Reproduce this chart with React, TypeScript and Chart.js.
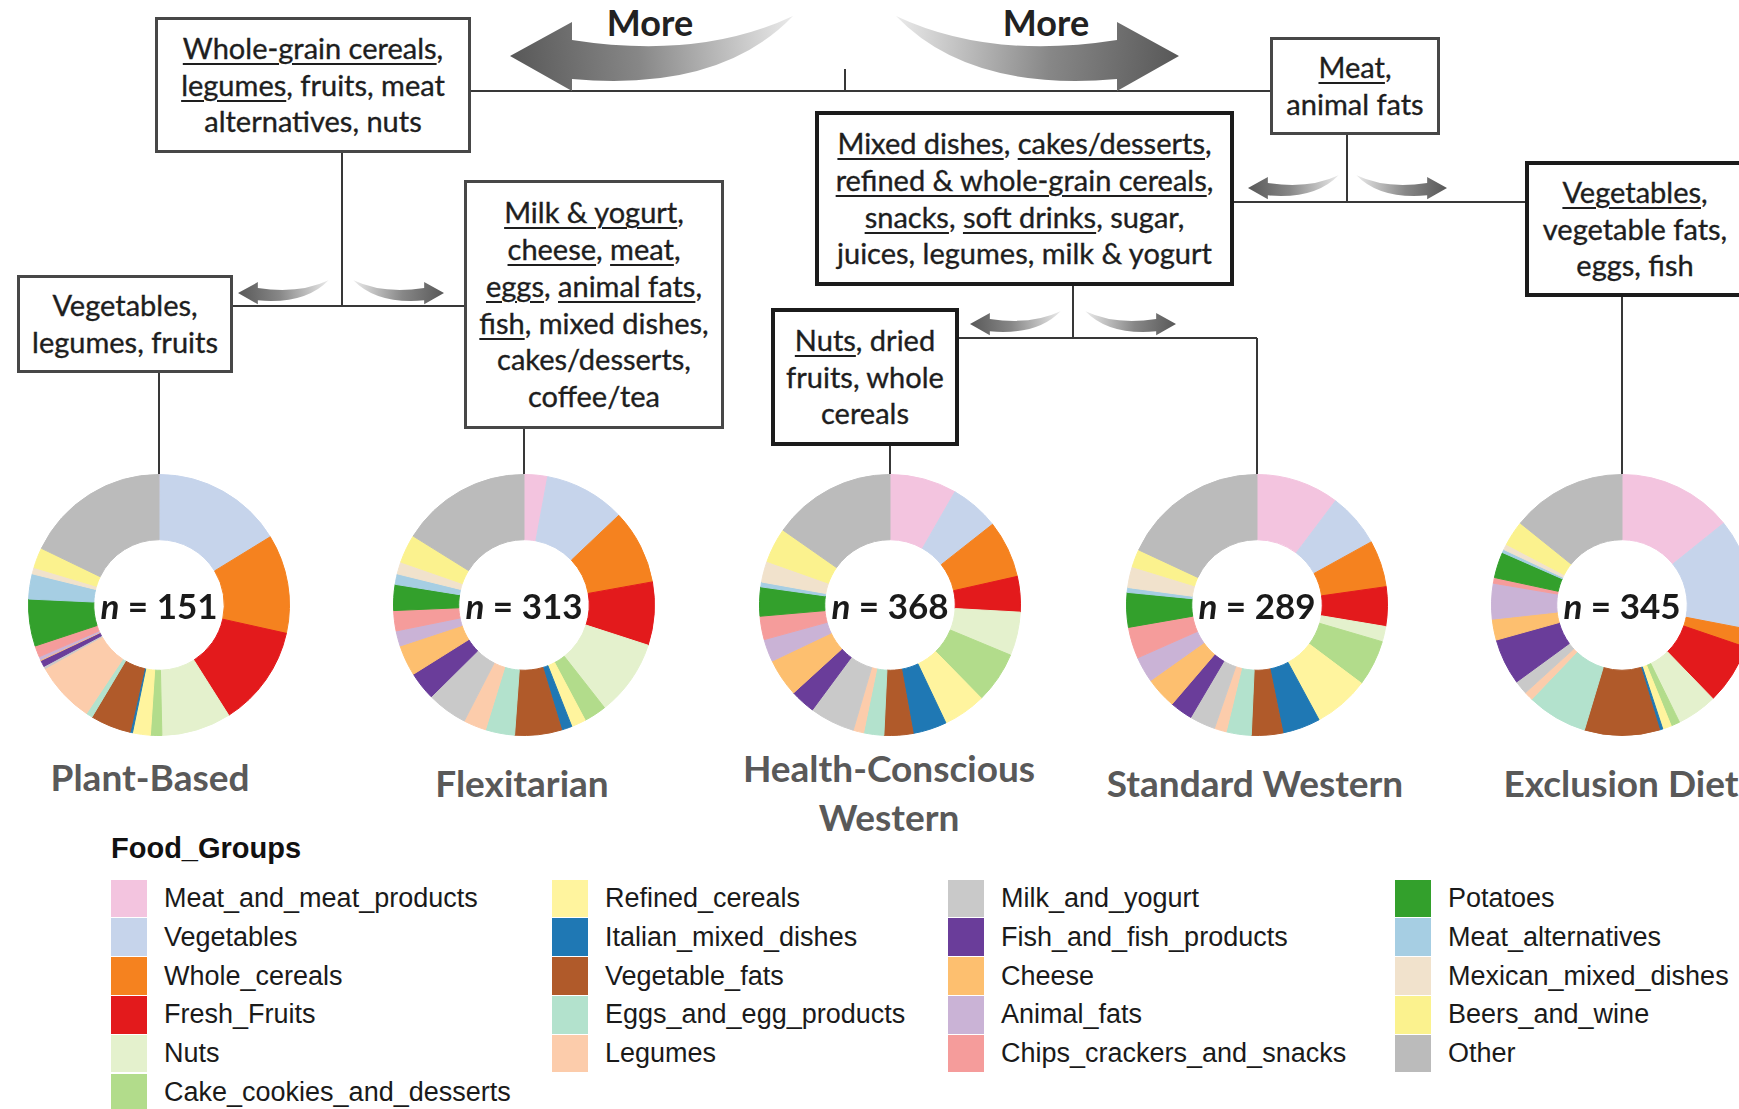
import React, { useEffect, useRef } from "react";
import { Chart, registerables } from "chart.js";

Chart.register(...registerables);

// ---------------- DATA ----------------
const FOOD_GROUPS = [
  "Meat_and_meat_products",
  "Vegetables",
  "Whole_cereals",
  "Fresh_Fruits",
  "Nuts",
  "Cake_cookies_and_desserts",
  "Refined_cereals",
  "Italian_mixed_dishes",
  "Vegetable_fats",
  "Eggs_and_egg_products",
  "Legumes",
  "Milk_and_yogurt",
  "Fish_and_fish_products",
  "Cheese",
  "Animal_fats",
  "Chips_crackers_and_snacks",
  "Potatoes",
  "Meat_alternatives",
  "Mexican_mixed_dishes",
  "Beers_and_wine",
  "Other",
];

const GROUP_COLORS = [
  "#F3C4DF",
  "#C6D4EB",
  "#F5821F",
  "#E31A1C",
  "#E4F1CD",
  "#B2DC8B",
  "#FFF49E",
  "#1F78B4",
  "#B05A2A",
  "#B3E2CD",
  "#FCCCAB",
  "#C9C9C9",
  "#6A3D9A",
  "#FDBF6F",
  "#CAB3D6",
  "#F59C9B",
  "#33A02C",
  "#A6CEE3",
  "#F1E2CC",
  "#FBF28E",
  "#BBBBBB",
];

// share of intake (%) per food group, in FOOD_GROUPS order
const PLANT_BASED = [0.1, 16.1, 12.2, 12.5, 8.6, 1.4, 2.2, 0.3, 5.0, 0.8, 7.5, 0.3, 0.8, 0.1, 0.4, 1.4, 5.8, 3.1, 0.8, 2.5, 17.8];
const FLEXITARIAN = [2.9, 10.0, 9.2, 7.8, 9.4, 2.8, 1.8, 1.3, 5.8, 3.6, 2.8, 5.0, 3.5, 3.8, 1.9, 2.5, 3.2, 1.3, 1.5, 3.5, 16.1];
const HEALTH_CONSCIOUS_WESTERN = [8.3, 6.1, 7.1, 4.4, 5.4, 6.4, 5.3, 4.2, 3.6, 2.5, 1.3, 5.6, 3.1, 4.7, 2.8, 2.9, 3.6, 0.6, 2.6, 4.3, 15.3];
const STANDARD_WESTERN = [10.3, 6.7, 5.8, 4.9, 1.9, 5.7, 6.9, 4.7, 3.9, 3.1, 1.5, 3.2, 2.8, 3.9, 3.2, 3.9, 4.3, 0.6, 2.6, 2.2, 18.1];
const EXCLUSION_DIET = [14.2, 13.8, 2.2, 7.5, 5.0, 1.1, 1.1, 0.4, 9.3, 7.5, 1.1, 1.7, 5.7, 2.6, 4.4, 0.7, 3.2, 0.4, 0.7, 3.1, 14.2];

const CLUSTER_NAMES = ["Plant-Based", "Flexitarian", "Health-Conscious\nWestern", "Standard Western", "Exclusion Diet"];
const CLUSTER_N = [151, 313, 368, 289, 345];
const CLUSTER_VALUES = [PLANT_BASED, FLEXITARIAN, HEALTH_CONSCIOUS_WESTERN, STANDARD_WESTERN, EXCLUSION_DIET];

// box texts (__x__ = underlined)
const BOX_WHOLEGRAIN = ["__Whole-grain cereals__,", "__legumes__, fruits, meat", "alternatives, nuts"];
const BOX_VEG_LEG = ["Vegetables,", "legumes, fruits"];
const BOX_MILK = ["__Milk & yogurt__,", "__cheese__, __meat__,", "__eggs__, __animal fats__,", "__fish__, mixed dishes,", "cakes/desserts,", "coffee/tea"];
const BOX_MEAT = ["__Meat__,", "animal fats"];
const BOX_MIXED = [
  "__Mixed dishes__, __cakes/desserts__,",
  "__refined & whole-grain cereals__,",
  "__snacks__, __soft drinks__, sugar,",
  "juices, legumes, milk & yogurt",
];
const BOX_NUTS = ["__Nuts__, dried", "fruits, whole", "cereals"];
const BOX_VEG_FATS = ["__Vegetables__,", "vegetable fats,", "eggs, fish"];

const LEGEND_TITLE = "Food_Groups";
const LEGEND_COLUMNS = [
  [0, 1, 2, 3, 4, 5],
  [6, 7, 8, 9, 10],
  [11, 12, 13, 14, 15],
  [16, 17, 18, 19, 20],
];

// ---------------- LAYOUT ----------------
const W = 1739;
const H = 1109;
const DONUT_CX = [159, 524, 890, 1257, 1622];
const DONUT_CY = 605;
const DONUT_SIZE = 262;
const LABEL_CX = [150, 522, 889, 1255, 1621];
const LABEL_CY = [776, 782, 767, 782, 782];
const FONT = "Lato, 'Open Sans', 'DejaVu Sans', sans-serif";
const LEGEND_FONT = "'Liberation Sans', Arial, sans-serif";

function renderMarkup(line: string) {
  const parts = line.split("__");
  return parts.map((p, i) =>
    i % 2 === 1 ? (
      <span
        key={i}
        style={{ textDecoration: "underline", textDecorationThickness: "2px", textUnderlineOffset: "4px" }}
      >
        {p}
      </span>
    ) : (
      <span key={i}>{p}</span>
    )
  );
}

function Box({ x, y, w, h, lines, thick }: { x: number; y: number; w: number; h: number; lines: string[]; thick?: boolean }) {
  return (
    <div
      style={{
        position: "absolute",
        left: x,
        top: y,
        width: w,
        height: h,
        boxSizing: "border-box",
        border: thick ? "4px solid #1b1b1b" : "3px solid #474747",
        background: "#fff",
        display: "flex",
        flexDirection: "column",
        justifyContent: "center",
        alignItems: "center",
        fontFamily: FONT,
        fontSize: 29,
        lineHeight: "36.7px",
        color: "#1e1e1e",
        WebkitTextStroke: "0.35px #1e1e1e",
        whiteSpace: "nowrap",
      }}
    >
      {lines.map((ln, i) => (
        <div key={i}>{renderMarkup(ln)}</div>
      ))}
    </div>
  );
}

function Donut({ values, cx, cy, n }: { values: number[]; cx: number; cy: number; n: number }) {
  const ref = useRef<HTMLCanvasElement>(null);
  useEffect(() => {
    if (!ref.current) return;
    const chart = new Chart(ref.current, {
      type: "doughnut",
      data: {
        labels: FOOD_GROUPS,
        datasets: [
          {
            data: values,
            backgroundColor: GROUP_COLORS,
            borderColor: GROUP_COLORS,
            borderWidth: 1,
          },
        ],
      },
      options: {
        responsive: false,
        maintainAspectRatio: false,
        animation: false,
        cutout: "50%",
        layout: { padding: 0 },
        events: [],
        plugins: { legend: { display: false }, tooltip: { enabled: false } },
      },
    });
    return () => chart.destroy();
  }, [values]);
  return (
    <>
      <canvas
        ref={ref}
        width={DONUT_SIZE}
        height={DONUT_SIZE}
        style={{
          position: "absolute",
          left: cx - DONUT_SIZE / 2,
          top: cy - DONUT_SIZE / 2,
          width: DONUT_SIZE,
          height: DONUT_SIZE,
        }}
      />
      <div
        style={{
          position: "absolute",
          left: cx - 100,
          top: cy - 24,
          width: 200,
          height: 48,
          lineHeight: "48px",
          textAlign: "center",
          fontFamily: FONT,
          fontWeight: 700,
          fontSize: 35,
          color: "#1a1a1a",
          whiteSpace: "nowrap",
        }}
      >
        <i>n</i> = {n}
      </div>
    </>
  );
}

// Curved arrow, unit shape pointing left with its tip at (0,0)
function arrowPath(tipX: number, tipY: number, dir: number, sx: number, sy: number) {
  const m = (px: number, py: number) => `${tipX + dir * px * sx},${tipY + py * sy}`;
  // dir = 1 -> points left; dir = -1 -> points right (mirrored)
  return [
    `M ${m(283, -40)}`,
    `Q ${m(210, 36)} ${m(62, 23)}`,
    `L ${m(62, 35)}`,
    `L ${m(0, 0)}`,
    `L ${m(62, -34)}`,
    `L ${m(62, -16)}`,
    `Q ${m(190, 4)} ${m(283, -40)}`,
    "Z",
  ].join(" ");
}

const ARROWS = [
  { tipX: 510, tipY: 56, dir: 1, s: 1 },
  { tipX: 1179, tipY: 56, dir: -1, s: 1 },
  { tipX: 238, tipY: 293, dir: 1, s: 0.32 },
  { tipX: 444, tipY: 293, dir: -1, s: 0.32 },
  { tipX: 1248, tipY: 188, dir: 1, s: 0.32 },
  { tipX: 1447, tipY: 188, dir: -1, s: 0.32 },
  { tipX: 970, tipY: 324, dir: 1, s: 0.32 },
  { tipX: 1176, tipY: 324, dir: -1, s: 0.32 },
];

const LINES: [number, number, number, number][] = [
  [471, 91, 1270, 91],
  [845, 69, 845, 91],
  [342, 153, 342, 306],
  [233, 306, 464, 306],
  [159, 373, 159, 477],
  [524, 429, 524, 477],
  [1347, 135, 1347, 202],
  [1234, 202, 1525, 202],
  [1073, 286, 1073, 338],
  [959, 338, 1257, 338],
  [1257, 338, 1257, 477],
  [890, 446, 890, 477],
  [1622, 297, 1622, 477],
];

function Diagram() {
  return (
    <svg width={W} height={H} style={{ position: "absolute", left: 0, top: 0 }}>
      <defs>
        {ARROWS.map((a, i) => (
          <linearGradient
            key={i}
            id={`ag${i}`}
            gradientUnits="userSpaceOnUse"
            x1={a.tipX}
            y1={a.tipY}
            x2={a.tipX + a.dir * 283 * a.s}
            y2={a.tipY - 30 * a.s}
          >
            <stop offset="0" stopColor="#585858" />
            <stop offset="0.45" stopColor="#878787" />
            <stop offset="1" stopColor="#eaeaea" />
          </linearGradient>
        ))}
      </defs>
      {LINES.map(([x1, y1, x2, y2], i) => (
        <line key={i} x1={x1} y1={y1} x2={x2} y2={y2} stroke="#383838" strokeWidth={2} />
      ))}
      {ARROWS.map((a, i) => (
        <path key={i} d={arrowPath(a.tipX, a.tipY, a.dir, a.s, a.s)} fill={`url(#ag${i})`} />
      ))}
    </svg>
  );
}

function Legend() {
  const colX = [111, 552, 948, 1395];
  const top0 = 879;
  const rowH = 38.8;
  return (
    <>
      <div
        style={{
          position: "absolute",
          left: 111,
          top: 830,
          height: 36,
          lineHeight: "36px",
          fontFamily: LEGEND_FONT,
          fontWeight: 700,
          fontSize: 29,
          color: "#111",
          whiteSpace: "nowrap",
        }}
      >
        {LEGEND_TITLE}
      </div>
      {LEGEND_COLUMNS.map((col, ci) =>
        col.map((gi, ri) => (
          <React.Fragment key={`${ci}-${ri}`}>
            <div
              style={{
                position: "absolute",
                left: colX[ci],
                top: top0 + ri * rowH + 0.5,
                width: 36,
                height: rowH - 1,
                background: GROUP_COLORS[gi],
              }}
            />
            <div
              style={{
                position: "absolute",
                left: colX[ci] + 53,
                top: top0 + ri * rowH,
                height: rowH,
                lineHeight: `${rowH}px`,
                fontFamily: LEGEND_FONT,
                fontSize: 27,
                color: "#1a1a1a",
                whiteSpace: "nowrap",
              }}
            >
              {FOOD_GROUPS[gi]}
            </div>
          </React.Fragment>
        ))
      )}
    </>
  );
}

export default function App() {
  return (
    <div
      style={{
        position: "absolute",
        left: 0,
        top: 0,
        width: W,
        height: H,
        background: "#fff",
        overflow: "hidden",
      }}
    >
      <Diagram />
      {/* "More" labels */}
      {[650, 1046].map((cx, i) => (
        <div
          key={i}
          style={{
            position: "absolute",
            left: cx - 80,
            top: 2,
            width: 160,
            height: 40,
            lineHeight: "40px",
            textAlign: "center",
            fontFamily: FONT,
            fontWeight: 700,
            fontSize: 36,
            color: "#222",
          }}
        >
          More
        </div>
      ))}
      <Box x={155} y={17} w={316} h={136} lines={BOX_WHOLEGRAIN} />
      <Box x={17} y={275} w={216} h={98} lines={BOX_VEG_LEG} />
      <Box x={464} y={180} w={260} h={249} lines={BOX_MILK} />
      <Box x={1270} y={37} w={170} h={98} lines={BOX_MEAT} />
      <Box x={815} y={111} w={419} h={175} lines={BOX_MIXED} thick />
      <Box x={771} y={308} w={188} h={138} lines={BOX_NUTS} thick />
      <Box x={1525} y={161} w={220} h={136} lines={BOX_VEG_FATS} thick />
      {CLUSTER_VALUES.map((vals, i) => (
        <Donut key={i} values={vals} cx={DONUT_CX[i]} cy={DONUT_CY} n={CLUSTER_N[i]} />
      ))}
      {CLUSTER_NAMES.map((name, i) => {
        const lines = name.split("\n");
        const lh = 49;
        const top = LABEL_CY[i] - lh / 2;
        return (
          <div
            key={i}
            style={{
              position: "absolute",
              left: LABEL_CX[i] - 200,
              top,
              width: 400,
              textAlign: "center",
              fontFamily: FONT,
              fontWeight: 700,
              fontSize: 37,
              lineHeight: `${lh}px`,
              color: "#595959",
              whiteSpace: "nowrap",
            }}
          >
            {lines.map((l, j) => (
              <div key={j}>{l}</div>
            ))}
          </div>
        );
      })}
      <Legend />
    </div>
  );
}
